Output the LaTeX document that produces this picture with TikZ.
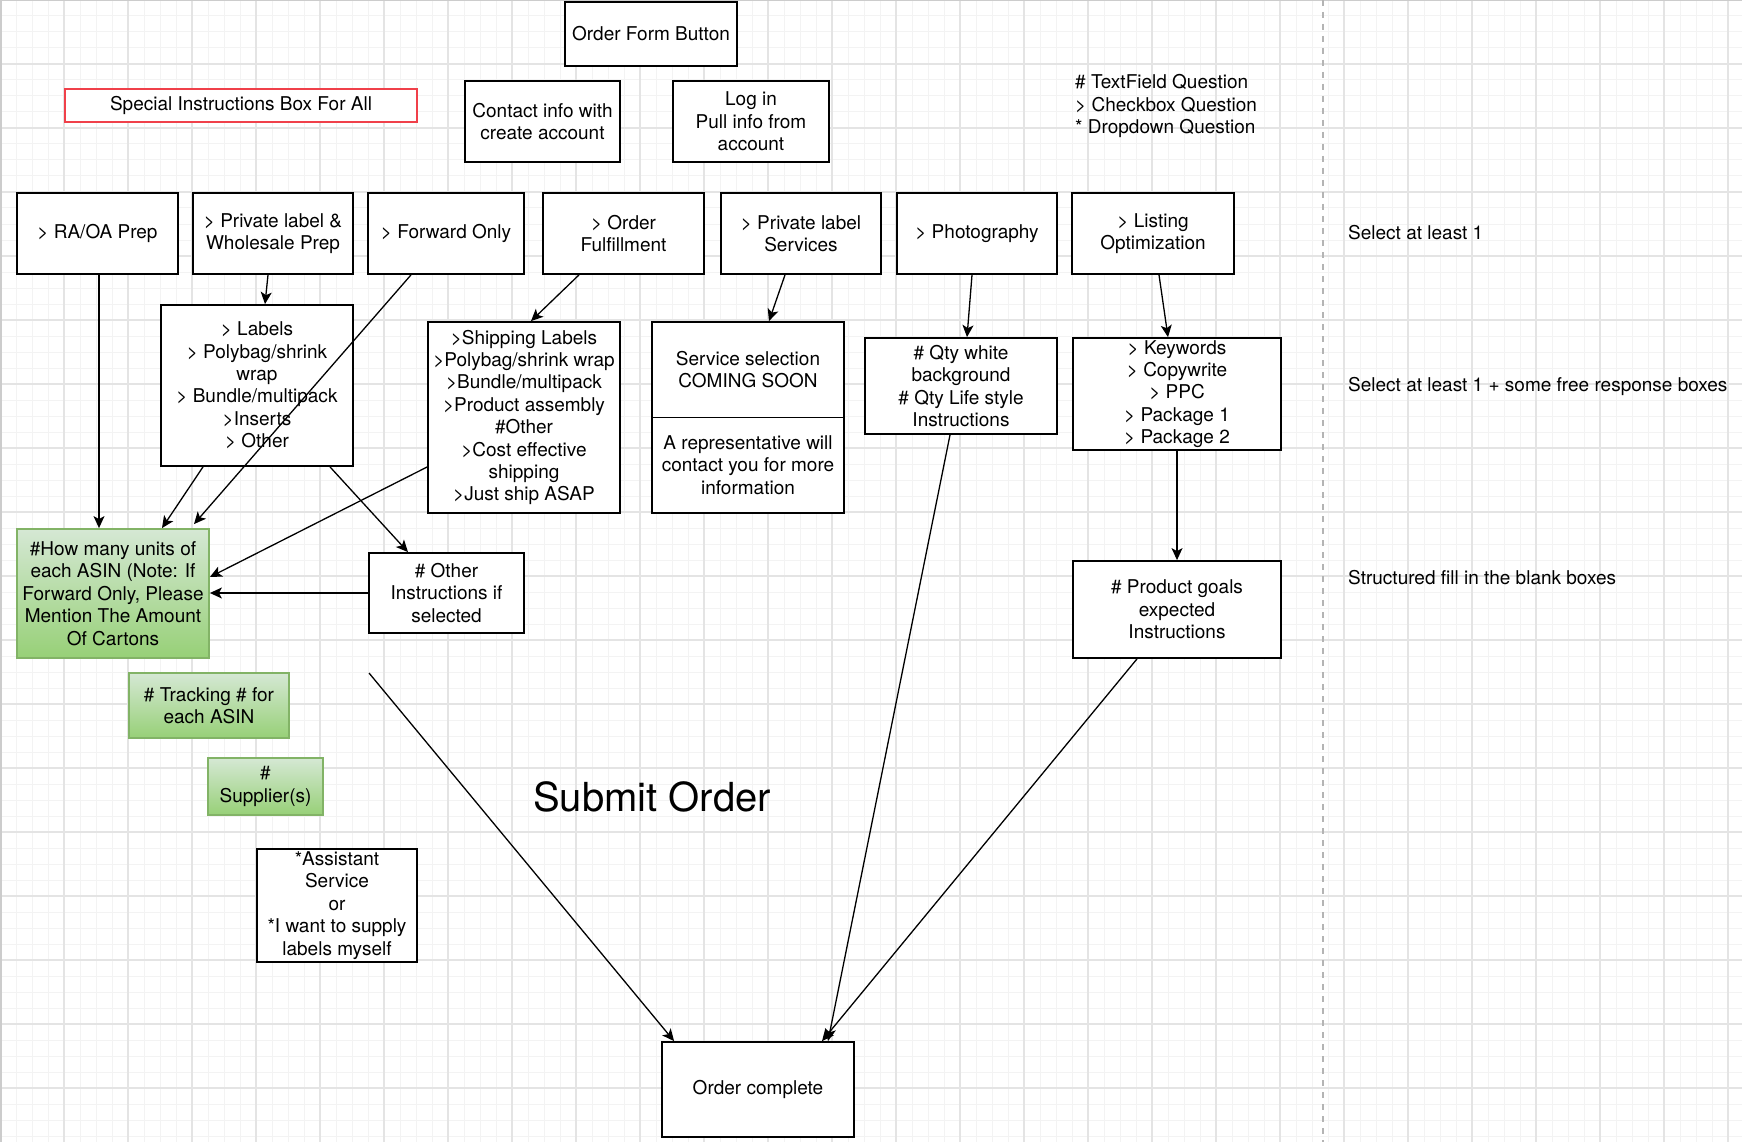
\documentclass[tikz,border=0pt]{standalone}
\usepackage{fontspec}
\setmainfont{TeX Gyre Heros}
\usetikzlibrary{arrows.meta,calc}
\definecolor{grnT}{HTML}{D5E8D4}
\definecolor{grnBot}{HTML}{97D077}
\definecolor{grnB}{HTML}{82B366}
\definecolor{redB}{HTML}{F0404A}
\definecolor{gminor}{HTML}{F3F3F3}
\definecolor{gmajor}{HTML}{E4E4E4}
\definecolor{dashc}{HTML}{B4B4B4}
\definecolor{framec}{HTML}{CCCCCC}
\newcommand{\boxfont}{\fontsize{19}{22.4}\selectfont}
\newcommand{\bigfont}{\fontsize{40}{48}\selectfont}
\tikzset{
  box/.style={draw=black, line width=1.8pt, fill=white, inner sep=0pt, align=center, font=\boxfont},
  greenbox/.style={box, draw=grnB, top color=grnT, bottom color=grnBot},
  redbox/.style={box, draw=redB},
  plain/.style={inner sep=0pt, font=\boxfont},
  conn/.style={line width=1.3pt, -{Stealth[length=12pt,width=11pt,inset=3pt]}},
}
\begin{document}
\begin{tikzpicture}[x=1pt,y=-1pt]
\useasboundingbox (0,0) rectangle (1742,1142);
\fill[white] (0,0) rectangle (1742,1142);
% grid
\foreach \i in {0,16,...,1742} {\draw[gminor, line width=1pt] (\i,0) -- (\i,1142);}
\foreach \j in {0,16,...,1142} {\draw[gminor, line width=1pt] (0,\j) -- (1742,\j);}
\foreach \i in {0,64,...,1742} {\draw[gmajor, line width=1.4pt] (\i,0) -- (\i,1142);}
\foreach \j in {0,64,...,1142} {\draw[gmajor, line width=1.4pt] (0,\j) -- (1742,\j);}
\draw[framec, line width=3pt] (0,1142) -- (0,0) -- (1742,0);
% dashed divider
\draw[dashc, line width=1.5pt, dash pattern=on 6pt off 6pt] (1323,0) -- (1323,1142);

% top boxes
\node[box, minimum width=172, minimum height=64] (ofb) at (651,34) {Order Form Button};
\node[redbox, minimum width=352, minimum height=33] (sib) at (241,105.5) {Special Instructions Box For All};
\node[box, minimum width=155, minimum height=81] (contact) at (542.5,121.5) {Contact info with\\create account};
\node[box, minimum width=156, minimum height=81] (login) at (751,121.5) {Log in\\Pull info from\\account};

% legend
\node[plain, anchor=west, align=left] (legend) at (1075,106) {\# TextField Question\\> Checkbox Question\\* Dropdown Question};

% row of options
\node[box, minimum width=161, minimum height=81] (raoa) at (97.5,233.5) {> RA/OA Prep};
\node[box, minimum width=160, minimum height=81] (plw) at (273,233.5) {> Private label \&\\Wholesale Prep};
\node[box, minimum width=156, minimum height=81] (fwd) at (446,233.5) {> Forward Only};
\node[box, minimum width=161, minimum height=81] (ordf) at (623.5,233.5) {> Order\\Fulfillment};
\node[box, minimum width=160, minimum height=81] (pls) at (801,233.5) {> Private label\\Services};
\node[box, minimum width=160, minimum height=81] (photo) at (977,233.5) {> Photography};
\node[box, minimum width=162, minimum height=81] (listing) at (1153,233.5) {> Listing\\Optimization};

% right notes
\node[plain, anchor=west] (sel1) at (1348,233) {Select at least 1};
\node[plain, anchor=west] (sel2) at (1348,386) {Select at least 1 + some free response boxes};
\node[plain, anchor=west] (struct) at (1348,578) {Structured fill in the blank boxes};

% second level
\node[box, minimum width=192, minimum height=161] (labels) at (257,385.5) {> Labels\\> Polybag/shrink\\wrap\\> Bundle/multipack\\>Inserts\\> Other};
\node[box, minimum width=192, minimum height=191] (ship) at (524,417.5) {>Shipping Labels\\>Polybag/shrink wrap\\>Bundle/multipack\\>Product assembly\\\#Other\\>Cost effective\\shipping\\>Just ship ASAP};
\node[box, minimum width=192, minimum height=191] (service) at (748,417.5) {};
\draw[line width=1.8pt] (service.west) -- (service.east);
\node[plain, align=center] (servtop) at (748,369.5) {Service selection\\COMING SOON};
\node[plain, align=center] (servbot) at (748,465) {A representative will\\contact you for more\\information};
\node[box, minimum width=192, minimum height=96] (qty) at (961,386) {\# Qty white\\background\\\# Qty Life style\\Instructions};
\node[box, minimum width=208, minimum height=112] (kw) at (1177,394) {> Keywords\\> Copywrite\\> PPC\\> Package 1\\> Package 2};
\node[box, minimum width=208, minimum height=97] (goals) at (1177,609.5) {\# Product goals\\expected\\Instructions};

% third level
\node[greenbox, minimum width=192, minimum height=129] (howmany) at (113,593.5) {\#How many units of\\each ASIN (Note: If\\Forward Only, Please\\Mention The Amount\\Of Cartons};
\node[box, minimum width=155, minimum height=80] (other) at (446.5,593) {\# Other\\Instructions if\\selected};
\node[greenbox, minimum width=160, minimum height=65] (tracking) at (209,705.5) {\# Tracking \# for\\each ASIN};
\node[greenbox, minimum width=115, minimum height=57] (supplier) at (265.5,786.5) {\#\\Supplier(s)};
\node[box, minimum width=160, minimum height=113] (assist) at (337,905.5) {*Assistant\\Service\\or\\*I want to supply\\labels myself};

\node[inner sep=0pt, font=\bigfont] (submit) at (652,797) {Submit Order};
\node[box, minimum width=192, minimum height=95] (complete) at (758,1089.5) {Order complete};
\coordinate (sstart) at (369,673);

% connectors
\draw[conn] ($(raoa.south)+(1.5,0)$) -- ($(howmany.north)+(-14,0)$);
\draw[conn] ($(plw.south)+(-5,0)$) -- ($(labels.north)+(8,0)$);
\draw[conn] ($(fwd.south)+(-35,0)$) -- ($(howmany.north)+(81,-4)$);
\draw[conn] ($(labels.south)+(-54,0)$) -- ($(howmany.north)+(49,0)$);
\draw[conn] ($(labels.south)+(73,0)$) -- ($(other.north)+(-38.5,0)$);
\draw[conn] ($(ship.west)+(0,49.5)$) -- ($(howmany.east)+(0,-16.5)$);
\draw[conn] (other.west) -- (other.west -| howmany.east);
\draw[conn] ($(ordf.south)+(-44.5,0)$) -- ($(ship.north)+(7,0)$);
\draw[conn] ($(pls.south)+(-16,0)$) -- ($(service.north)+(21,0)$);
\draw[conn] ($(photo.south)+(-5,0)$) -- ($(qty.north)+(6,0)$);
\draw[conn] ($(listing.south)+(6,0)$) -- ($(kw.north)+(-9,0)$);
\draw[conn] (kw.south) -- (goals.north);
\draw[conn] (sstart) -- ($(complete.north west)+(13,0)$);
\draw[conn] ($(qty.south)+(-11,0)$) -- ($(complete.north)+(70,0)$);
\draw[conn] ($(goals.south)+(-40,0)$) -- ($(complete.north)+(64,0)$);
\end{tikzpicture}
\end{document}
